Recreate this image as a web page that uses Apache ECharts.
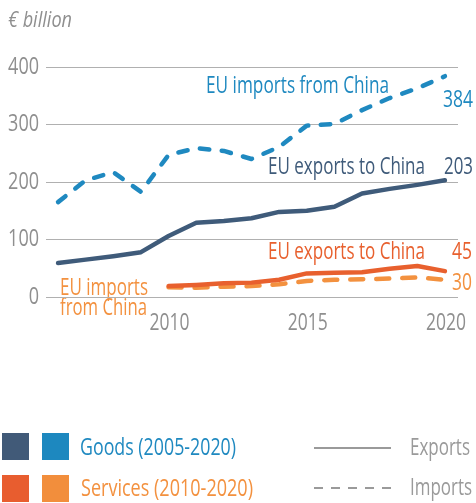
<!DOCTYPE html>
<html>
<head>
<meta charset="utf-8">
<script src="https://cdn.jsdelivr.net/npm/echarts@6/dist/echarts.min.js"></script>
<style>
html,body{margin:0;padding:0;background:#fff;}
#chart{width:476px;height:503px;}
</style>
</head>
<body>
<div id="chart"></div>
<script>
// ---- data ----
var goodsYears = [2006, 2007, 2008, 2009, 2010, 2011, 2012, 2013, 2014, 2015, 2016, 2017, 2018, 2019, 2020];
var goodsExports = [59, 65, 71, 78, 106, 129, 132, 137, 148, 150, 157, 180, 188, 195, 203];
var goodsImports = [165, 203, 217, 183, 247, 259, 254, 240, 261, 298, 301, 325, 346, 363, 384];
var servicesYears = [2010, 2011, 2012, 2013, 2014, 2015, 2016, 2017, 2018, 2019, 2020];
var servicesExports = [19, 21, 24, 25, 30, 41, 42, 43, 49, 54, 45];
var servicesImports = [17, 16, 18, 19, 22, 28, 30, 31, 32, 34, 30];
var xTickLabels = [2010, 2015, 2020];
var yTickLabels = [0, 100, 200, 300, 400];

var FAMILY = "'Open Sans', 'Noto Sans', sans-serif";
var C_GE = '#3f5b7a', C_GI = '#1f89c0', C_SE = '#e8602e', C_SI = '#f3913f';
var GRAY = '#8f8f8f';

function pairs(xs, ys) { return xs.map(function (x, i) { return [x, ys[i]]; }); }
function last(a) { return a[a.length - 1]; }

var mctx = document.createElement('canvas').getContext('2d');
function fontStr(size, style) { return (style || 'normal') + ' normal ' + size + 'px ' + FAMILY; }
// text squeezed horizontally to a condensed width
function ctext(x, y, s, color, size, width, align, style) {
  mctx.font = fontStr(size, style);
  var w = mctx.measureText(s).width;
  var k = width / w;
  return { type: 'text', silent: true, x: x, y: y, scaleX: k, scaleY: 1,
    style: { x: 0, y: 0, text: s, fill: color, font: fontStr(size, style),
      textVerticalAlign: 'middle', textAlign: align || 'left' } };
}

var chart = echarts.init(document.getElementById('chart'), null, { renderer: 'canvas' });

var graphics = [
  ctext(8, 21, '€ billion', GRAY, 21, 64, 'left', 'italic'),
  ctext(206, 86, 'EU imports from China', C_GI, 24, 183),
  ctext(443, 100, String(last(goodsImports)), C_GI, 24, 30),
  ctext(268, 167, 'EU exports to China', C_GE, 24, 157),
  ctext(444, 167, String(last(goodsExports)), C_GE, 24, 29),
  ctext(268, 252, 'EU exports to China', C_SE, 24, 157),
  ctext(452, 252, String(last(servicesExports)), C_SE, 24, 20),
  ctext(452, 283, String(last(servicesImports)), C_SI, 24, 20),
  ctext(60, 288, 'EU imports', C_SI, 24, 88),
  ctext(60, 308, 'from China', C_SI, 24, 87),
  // legend
  { type: 'rect', silent: true, shape: { x: 2, y: 433, width: 27, height: 27 }, style: { fill: '#415a78' } },
  { type: 'rect', silent: true, shape: { x: 42, y: 433, width: 27, height: 27 }, style: { fill: '#1d88bf' } },
  ctext(80, 448, 'Goods (2005-2020)', C_GI, 24, 156),
  { type: 'rect', silent: true, shape: { x: 2, y: 475, width: 27, height: 27 }, style: { fill: '#e85d2f' } },
  { type: 'rect', silent: true, shape: { x: 42, y: 475, width: 27, height: 27 }, style: { fill: '#f28e3c' } },
  ctext(81, 489, 'Services (2010-2020)', C_SI, 24, 172),
  { type: 'line', silent: true, shape: { x1: 314, y1: 448, x2: 391, y2: 448 }, style: { stroke: '#9a9a9a', lineWidth: 2 } },
  ctext(410, 448, 'Exports', '#9a9a9a', 24, 60),
  { type: 'line', silent: true, shape: { x1: 314, y1: 488, x2: 391, y2: 488 }, style: { stroke: '#9a9a9a', lineWidth: 2, lineDash: [9, 8] } },
  ctext(410, 488, 'Imports', '#9a9a9a', 24, 62)
];

var option = {
  animation: false,
  grid: { left: 46, right: 18, top: 67, bottom: 206, containLabel: false },
  xAxis: {
    type: 'value', min: 2005.564, max: 2020.473,
    axisLine: { show: false }, axisTick: { show: false }, splitLine: { show: false },
    axisLabel: { show: false }
  },
  yAxis: {
    type: 'value', min: 0, max: 400, interval: 100,
    axisLine: { show: false }, axisTick: { show: false },
    splitLine: { show: true, lineStyle: { color: '#b0b0b0', width: 1 } },
    axisLabel: { show: false }
  },
  series: [
    { type: 'line', data: pairs(goodsYears, goodsImports), symbol: 'none', silent: true,
      lineStyle: { color: C_GI, width: 4.5, type: [9.5, 12.5], cap: 'round', join: 'round' } },
    { type: 'line', data: pairs(goodsYears, goodsExports), symbol: 'none', silent: true,
      lineStyle: { color: C_GE, width: 4.5, type: 'solid', cap: 'round', join: 'round' } },
    { type: 'line', data: pairs(servicesYears, servicesImports), symbol: 'none', silent: true,
      lineStyle: { color: C_SI, width: 4.5, type: [13, 13], cap: 'round', join: 'round' } },
    { type: 'line', data: pairs(servicesYears, servicesExports), symbol: 'none', silent: true,
      lineStyle: { color: C_SE, width: 4.5, type: 'solid', cap: 'round', join: 'round' } }
  ],
  graphic: graphics
};
chart.setOption(option);

// tick labels placed through the axes' own scales
var tickGraphics = [];
yTickLabels.forEach(function (v) {
  var p = chart.convertToPixel({ gridIndex: 0 }, [2010, v]);
  tickGraphics.push(ctext(39, p[1], String(v), GRAY, 24, 10.3 * String(v).length, 'right'));
});
xTickLabels.forEach(function (v) {
  var p = chart.convertToPixel({ gridIndex: 0 }, [v, 0]);
  tickGraphics.push(ctext(p[0] + 1, p[1] + 26, String(v), GRAY, 24, 40, 'center'));
});
chart.setOption({ graphic: graphics.concat(tickGraphics) });
</script>
</body>
</html>
